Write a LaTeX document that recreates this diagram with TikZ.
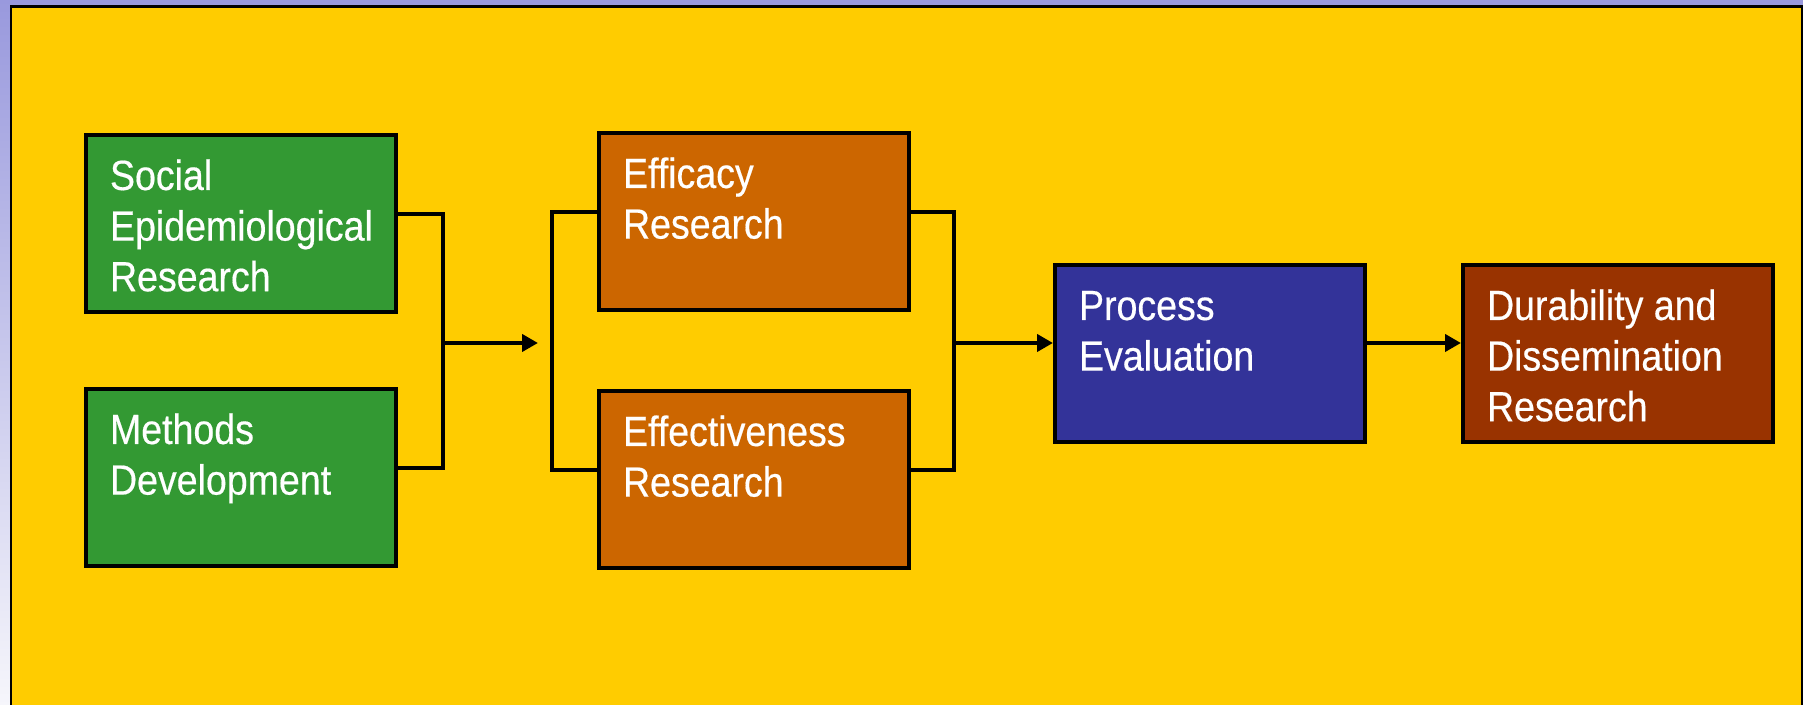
\documentclass[tikz,border=0pt]{standalone}
\usepackage{fontspec}
\newfontfamily\boxfont{Liberation Sans}[FakeStretch=0.89,FakeBold=0.4]
\usetikzlibrary{arrows.meta}
\definecolor{panel}{HTML}{FFCC00}
\definecolor{sky}{HTML}{9999DD}
\definecolor{mist}{HTML}{F6F6FB}
\definecolor{grass}{HTML}{339933}
\definecolor{rust}{HTML}{CC6600}
\definecolor{navy}{HTML}{333399}
\definecolor{brick}{HTML}{993300}

\begin{document}
\begin{tikzpicture}[
  stage/.style={draw=black,line width=0.04cm,anchor=north west,text=white,
    font={\boxfont\fontsize{12}{14.4}\selectfont},align=flush left,
    text width=2.62cm,inner xsep=0.24cm,inner ysep=0pt,
    text height=0.55cm,text depth=1.22cm},
  link/.style={line width=0.04cm},
  flow/.style={line width=0.04cm,-{Triangle[length=1.6mm,width=1.7mm]}}]
  \useasboundingbox (0,0) rectangle (18.03,7.05);
  \shade[top color=sky,bottom color=mist] (0,0) rectangle (18.03,7.05);
  \draw[fill=panel,line width=0.03cm] (0.11,-0.1) rectangle (18.02,6.98);
  \node[stage,fill=grass] (soc)    at (0.84,5.72)  {Social\\Epidemiological\\Research};
  \node[stage,fill=grass] (meth)   at (0.84,3.18)  {Methods\\Development};
  \node[stage,fill=rust]  (effic)  at (5.97,5.74)  {Efficacy\\Research};
  \node[stage,fill=rust]  (effect) at (5.97,3.16)  {Effectiveness\\Research};
  \node[stage,fill=navy]  (proc)   at (10.53,4.42) {Process\\Evaluation};
  \node[stage,fill=brick] (dur)    at (14.61,4.42) {Durability and\\Dissemination\\Research};
  \coordinate (j1) at (4.43,3.62);
  \coordinate (j2) at (5.52,3.62);
  \coordinate (j3) at (9.54,3.62);
  \draw[link] ([yshift=0.9mm]soc.east) -| (j1) |- ([yshift=0.9mm]meth.east);
  \draw[flow] (j1) -- ([xshift=-1.4mm]j2);
  \draw[link] ([yshift=0.9mm]effic.west) -| (j2) |- ([yshift=0.9mm]effect.west);
  \draw[link] ([yshift=0.9mm]effic.east) -| (j3) |- ([yshift=0.9mm]effect.east);
  \draw[flow] (j3) -- (j3 -| proc.west);
  \draw[flow] (j3 -| proc.east) -- (j3 -| dur.west);
\end{tikzpicture}
\end{document}
